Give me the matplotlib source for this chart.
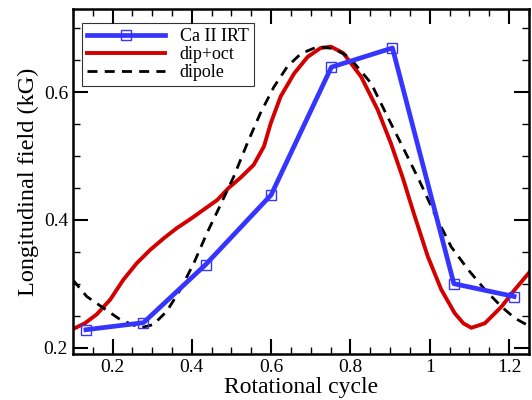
import matplotlib
matplotlib.use("Agg")
import matplotlib.pyplot as plt
from matplotlib.ticker import MultipleLocator, FixedLocator

plt.rcParams['font.family'] = ['Liberation Serif', 'DejaVu Serif']

# Ca II IRT measurements
ca_x = [0.133, 0.278, 0.435, 0.600, 0.752, 0.906, 1.061, 1.213]
ca_y = [0.228, 0.239, 0.330, 0.439, 0.639, 0.669, 0.300, 0.280]

# dip+oct model
do_x = [0.100, 0.130, 0.160, 0.194, 0.227, 0.261, 0.295, 0.329, 0.362, 0.396, 0.430,
        0.464, 0.493, 0.523, 0.556, 0.582, 0.599, 0.624, 0.658, 0.692, 0.725, 0.751,
        0.782, 0.827, 0.869, 0.902, 0.932, 0.960, 0.995, 1.029, 1.063, 1.085, 1.105,
        1.139, 1.181, 1.215, 1.253]
do_y = [0.229, 0.238, 0.252, 0.275, 0.306, 0.332, 0.353, 0.371, 0.387, 0.401, 0.416,
        0.431, 0.450, 0.466, 0.486, 0.515, 0.551, 0.593, 0.629, 0.655, 0.669, 0.671,
        0.661, 0.624, 0.572, 0.520, 0.466, 0.410, 0.343, 0.291, 0.254, 0.238, 0.231,
        0.238, 0.264, 0.291, 0.319]

# dipole model
dp_x = [0.100, 0.135, 0.177, 0.219, 0.270, 0.303, 0.337, 0.371, 0.405, 0.438, 0.472,
        0.506, 0.540, 0.573, 0.607, 0.641, 0.675, 0.717, 0.759, 0.793, 0.810, 0.852,
        0.894, 0.936, 0.975, 1.012, 1.054, 1.097, 1.139, 1.181, 1.215, 1.253]
dp_y = [0.306, 0.280, 0.262, 0.244, 0.231, 0.236, 0.257, 0.291, 0.332, 0.379, 0.423,
        0.468, 0.520, 0.567, 0.608, 0.640, 0.660, 0.671, 0.668, 0.656, 0.645, 0.614,
        0.561, 0.509, 0.460, 0.410, 0.358, 0.322, 0.291, 0.264, 0.246, 0.233]

fig = plt.figure(figsize=(5.32, 4.0), dpi=100)
ax = fig.add_axes([0.137, 0.115, 0.857, 0.8625])

ax.plot(ca_x, ca_y, color='#3535ff', lw=3.4, marker='s', markersize=7.5,
        markerfacecolor='none', markeredgecolor='#3535ff', markeredgewidth=1.0,
        label='Ca II IRT', zorder=3)
ax.plot(do_x, do_y, color='#d40000', lw=2.8, label='dip+oct', zorder=2)
ax.plot(dp_x, dp_y, color='black', lw=2.0, ls=(0, (3.6, 2.6)), label='dipole', zorder=2)

ax.set_xlim(0.1, 1.25)
ax.set_ylim(0.19, 0.73)
ax.xaxis.set_major_locator(FixedLocator([0.2, 0.4, 0.6, 0.8, 1.0, 1.2]))
ax.set_xticklabels(['0.2', '0.4', '0.6', '0.8', '1', '1.2'])
ax.xaxis.set_minor_locator(MultipleLocator(0.05))
ax.yaxis.set_major_locator(FixedLocator([0.2, 0.4, 0.6]))
ax.set_yticklabels(['0.2', '0.4', '0.6'])
ax.yaxis.set_minor_locator(MultipleLocator(0.05))

ax.tick_params(which='both', direction='in', top=True, right=True, labelsize=14, width=1.5)
ax.tick_params(which='major', length=11)
ax.tick_params(which='minor', length=5, width=1.0)
for s in ax.spines.values():
    s.set_linewidth(1.8)

ax.set_xlabel('Rotational cycle', fontsize=17, labelpad=1)
ax.set_ylabel('Longitudinal field (kG)', fontsize=17.5, labelpad=3)

leg = ax.legend(loc='upper left', bbox_to_anchor=(0.02, 0.96), fontsize=13,
                frameon=True, fancybox=False, edgecolor='black', handlelength=4.3,
                borderpad=0.3, labelspacing=0.05, handletextpad=0.8, borderaxespad=0)
leg.get_frame().set_linewidth(0.8)

fig.savefig('out.png', dpi=100)
